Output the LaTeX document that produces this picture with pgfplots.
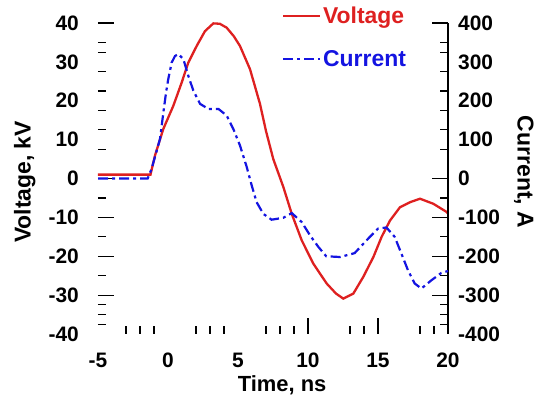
\documentclass[border=0pt]{standalone}
\usepackage{pgfplots}
\pgfplotsset{compat=1.18}
\usepackage{fontspec}
\setmainfont{Liberation Sans}
\definecolor{vred}{RGB}{222,32,32}
\definecolor{cblue}{RGB}{20,20,225}
\newcommand\tfont{\fontsize{21}{24}\selectfont\bfseries}
\newcommand\lfont{\fontsize{23}{26}\selectfont\bfseries}
\newcommand\xlfont{\fontsize{22}{24}\selectfont\bfseries}

\pgfplotstableread{
t v
-5 1
-1.25 1
-0.93 5.9
-0.34 12.7
0.38 18.7
0.98 24.7
1.45 29.8
2.05 34.1
2.64 37.9
3.24 39.9
3.7 39.8
4.19 38.8
4.7 36.6
5.14 34.1
5.86 28.1
6.57 19.2
7.0 12.2
7.52 5.0
8.24 -2.2
8.84 -9.1
9.55 -15.9
10.38 -21.9
11.33 -27.0
12.0 -29.6
12.52 -30.9
13.24 -29.6
13.95 -25.3
14.67 -20.2
15.26 -15.0
15.86 -10.8
16.57 -7.4
17.29 -6.1
18.0 -5.2
18.95 -6.5
19.9 -8.6
20 -9.0
}\voltage

\pgfplotstableread{
t i
-5 0
-1.45 0
-1.17 25
-0.57 102
-0.33 170
-0.14 221
0.02 256
0.26 298
0.5 315
0.74 320
1.1 307
1.45 264
1.81 226
2.29 192
2.88 179
3.6 179
4.19 162
4.67 127
5.14 85
5.62 30
5.98 -18
6.33 -61
6.81 -91
7.4 -106
8.24 -101
8.84 -89
9.55 -112
10.14 -146
10.74 -176
11.3 -200
12.29 -202
13.33 -192
14.29 -155
15.0 -129
15.6 -126
16.19 -150
16.67 -193
17.14 -236
17.62 -270
18.1 -283
18.81 -262
19.52 -243
20 -238
}\current

\begin{document}
\begin{tikzpicture}
\pgfplotsset{
  base/.style={
    width=350bp, height=311bp, scale only axis,
    xmin=-5, xmax=20,
    tick align=inside,
    every tick/.style={black, line width=1.2bp},
    major tick length=16bp, minor tick length=8bp,
    /pgf/number format/assume math mode=true,
    tick label style={font=\tfont},
    label style={font=\lfont},
    clip=false,
  },
}
\begin{axis}[base, name=ax,
  ymin=-40, ymax=40,
  axis x line*=bottom, axis y line*=left,
  axis line style={draw=none},
  xtick={10,15}, xticklabels={},
  minor xtick={-3,-2,-1,2,3,4,7,8,9,13,14,18,19},
  extra x ticks={-5,0,5,10,15,20},
  extra x tick labels={-5,0,5,10,15,20},
  extra x tick style={major tick length=0pt},
  ytick={-30,-20,-10,0,40}, yticklabels={},
  minor ytick={35,32.5,27.5,22.5,17.5,12.5,7.5,-5,-15,-25,-32.5,-35,-37.5},
  extra y ticks={-40,-30,-20,-10,0,10,20,30,40},
  extra y tick labels={-40,-30,-20,-10,0,10,20,30,40},
  extra y tick style={major tick length=0pt},
  xticklabel style={anchor=north, inner sep=0pt, yshift=-19bp},
  yticklabel style={anchor=east, inner sep=0pt, xshift=-19bp},
  xlabel={Time, ns},
  xlabel style={font=\xlfont, at={(axis description cs:0.526,-0.165)}, anchor=center, inner sep=0pt},
  ylabel={Voltage, kV},
  ylabel style={at={(axis description cs:-0.209,0.489)}, anchor=center},
]
\addplot[vred, line width=2.3bp] table[x=t, y=v] {\voltage};
\end{axis}
\begin{axis}[base, name=ax2,
  ymin=-400, ymax=400,
  axis x line=none, axis y line*=right,
  axis line style={line width=1.3bp, black},
  ytick={-300,-200,-100,0,400}, yticklabels={},
  minor ytick={350,325,275,225,175,125,75,-50,-150,-250,-325,-350,-375},
  extra y ticks={-400,-300,-200,-100,0,100,200,300,400},
  extra y tick labels={-400,-300,-200,-100,0,100,200,300,400},
  extra y tick style={major tick length=0pt},
  yticklabel style={anchor=west, inner sep=0pt, xshift=10bp},
  ylabel={Current, A},
  ylabel style={at={(axis description cs:1.217,0.521)}, anchor=center, rotate=180},
  legend style={at={(axis description cs:0.525,1.058)}, anchor=north west,
    draw=none, fill=none, font=\lfont, row sep=21bp, inner sep=0pt,
    nodes={inner sep=2bp}},
  legend cell align=left,
  legend image code/.code={\draw[#1] (0bp,0bp) -- (37bp,0bp);},
]
\addlegendimage{vred, line width=1.6bp}
\addlegendentry{\textcolor{vred}{Voltage}}
\addplot[cblue, line width=2.2bp, dash pattern=on 10bp off 4bp on 3bp off 4bp] table[x=t, y=i] {\current};
\addlegendentry{\textcolor{cblue}{Current}}
\end{axis}
\pgfresetboundingbox
\path[use as bounding box] ([shift={(-98bp,-62bp)}]ax.south west) rectangle ([shift={(91bp,23bp)}]ax.north east);
\end{tikzpicture}
\end{document}
